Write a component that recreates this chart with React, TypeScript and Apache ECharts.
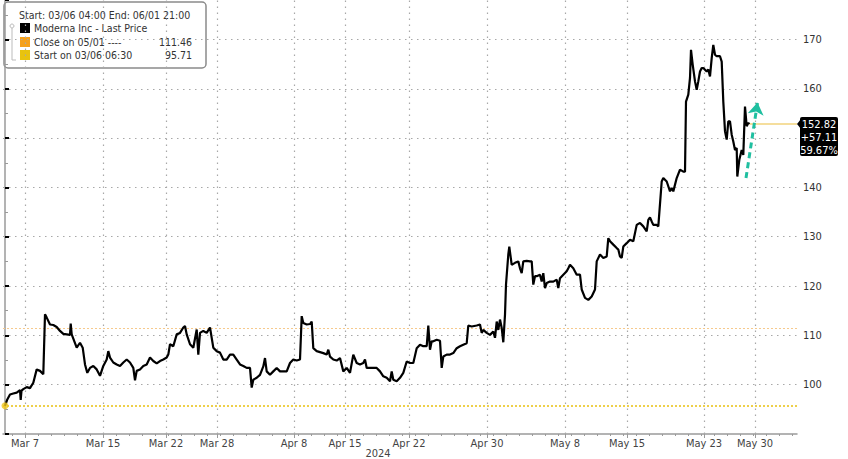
import React, { useEffect, useRef } from "react";
import * as echarts from "echarts";

// x = half-hour bar index since 03/06 04:00 (13 bars per trading day)
const marchPrices: [number, number][] = [
  [0, 95.71], [2.3, 97.0], [5, 98.0], [8.3, 98.2], [11.7, 98.4], [15, 98.9], [15.7, 96.9], [16.5, 98.8],
  [18.3, 99.1], [21.7, 99.5], [25, 99.3], [28.3, 100.4], [31.7, 103.1], [35, 102.8], [38.3, 102.1],
  [40, 114.3], [41.7, 113.6], [45, 112.2], [48.3, 112.1], [51.7, 111.7], [55, 110.9], [58.3, 110.3],
  [61.7, 110.2], [65, 110.1], [65.7, 112.4], [66.7, 110.2], [71.7, 107.5], [75, 108.5], [77.7, 107.5],
  [80, 104.1], [82.3, 102.4], [85, 103.4], [88.3, 103.8], [91.7, 103.1], [95, 101.8], [98.3, 103.8],
  [101.7, 105.1], [103.3, 106.8], [105, 105.5], [108.3, 104.5], [111.7, 104.1], [115, 103.8],
  [118.3, 104.5], [121.7, 105.1], [125, 104.5], [128.3, 103.4], [130, 100.9], [131.7, 102.8],
  [135, 103.1], [138.3, 103.8], [141.7, 104.1], [145, 105.5], [148.3, 104.8], [151.7, 104.3],
  [155, 104.8], [158.3, 105.1], [161.7, 105.5], [163.3, 106.1], [165, 108.2], [168.3, 107.8],
  [171.7, 110.2], [175, 110.5], [178.3, 111.6], [180, 111.9], [181.7, 110.2], [185, 108.2],
  [188.3, 107.5], [191.7, 111.2], [193.3, 106.1], [195, 110.5], [198.3, 110.9], [201.7, 110.5],
  [205, 111.6], [208.3, 107.5], [211.7, 106.8], [215, 106.5], [218.3, 105.1],
];
const aprilPrices: [number, number][] = [
  [221.7, 105.1], [225, 106.1], [228.3, 106.1], [231.7, 105.1], [235, 104.1], [238.3, 103.8],
  [241.7, 103.4], [245, 103.4], [246.7, 99.4], [248.3, 101.0], [251.7, 101.4], [255, 102.0],
  [258.3, 103.7], [260, 105.4], [261.7, 102.7], [265, 102.0], [268.3, 102.7], [271.7, 103.4],
  [275, 102.7], [278.3, 102.7], [281.7, 102.7], [285, 104.4], [288.3, 105.1], [291.7, 104.9],
  [295, 105.1], [296.7, 113.9], [298.3, 112.5], [301.7, 112.2], [305, 112.3], [306.7, 112.8],
  [308.3, 107.4], [311.7, 106.8], [315, 106.6], [318.3, 106.4], [321.7, 106.1], [323.3, 107.1],
  [325, 105.7], [328.3, 105.1], [331.7, 104.9], [335, 105.4], [338.3, 102.7], [341.7, 103.4],
  [345, 102.4], [348.3, 106.1], [351.7, 104.4], [355, 104.1], [358.3, 104.4], [360, 105.1],
  [361.7, 103.4], [365, 103.4], [368.3, 103.4], [371.7, 103.4], [375, 102.7], [378.3, 101.7],
  [381.7, 101.4], [385, 100.7], [386.7, 102.7], [388.3, 101.0], [391.7, 100.7], [395, 101.4],
  [398.3, 102.4], [401.7, 104.7], [405, 104.4], [408.3, 104.4], [411.7, 107.4], [415, 108.1],
  [418.3, 107.8], [421.7, 107.8], [423.3, 112.0], [425, 107.1], [426.7, 108.8], [428.3, 108.8],
  [431.7, 109.1], [435, 108.9], [436.7, 103.4], [438.3, 105.7], [441.7, 106.1], [445, 106.1],
  [448.3, 106.4], [451.7, 107.4], [455, 107.8], [458.3, 108.1], [461.7, 108.4], [463.3, 112.0],
  [466.7, 111.8], [471.7, 112.0], [475, 112.2], [476.7, 110.5], [478.3, 111.1], [481.7, 110.5],
  [485, 110.1], [488.3, 110.8], [490, 109.5],
];
const mayPrices: [number, number][] = [
  [491.7, 112.8], [493.3, 111.1], [495, 113.2], [496.7, 111.5], [498.3, 108.6], [500, 114.2],
  [501, 120.3], [503.3, 126.4], [504.3, 128.0], [506.7, 124.3], [510, 124.7], [513.3, 125.0],
  [515, 123.6], [516.7, 122.6], [518.3, 125.0], [521.7, 125.1], [525, 125.0], [526.7, 125.0],
  [528.3, 120.3], [530, 122.0], [531.7, 122.0], [535, 122.3], [536.7, 120.9], [538.3, 122.6],
  [540, 119.6], [541.7, 120.6], [545, 120.9], [548.3, 120.9], [551.7, 121.3], [553.3, 119.6],
  [555, 121.6], [558.3, 122.3], [561.7, 123.0], [563.3, 123.6], [565, 124.3], [568.3, 123.6],
  [571.7, 122.3], [575, 122.3], [576.7, 119.3], [580, 117.6], [583.3, 117.2], [586.7, 117.9],
  [590, 119.3], [591.7, 125.0], [595, 126.4], [598.3, 125.7], [601.7, 126.0], [603.3, 129.7],
  [605, 129.1], [608.3, 128.4], [611.7, 127.7], [613.3, 127.4], [615, 126.0], [616.7, 125.7],
  [618.3, 128.0], [621.7, 128.7], [625, 129.4], [628.3, 129.1], [631.7, 132.4], [635, 132.8],
  [638.3, 132.1], [641.7, 131.1], [643.3, 133.4], [645, 133.9], [646.7, 133.1], [648.3, 132.4],
  [651.7, 132.4], [653.3, 132.1], [656.7, 141.2], [658.3, 141.9], [661.7, 141.2], [665, 139.2],
  [666.7, 139.9], [668.3, 139.2], [671.7, 141.9], [675, 143.6], [678.3, 143.2], [680, 143.2],
  [681, 157.4], [683.3, 158.8], [685, 162.2], [686, 167.9], [687.7, 164.9], [690, 161.5],
  [691.7, 159.8], [693.3, 161.5], [695, 163.5], [696.7, 164.2], [698.3, 164.2], [701.7, 163.5],
  [703.3, 163.9], [705, 162.5], [706.7, 166.2], [708.3, 168.9], [710, 166.9], [711.7, 166.6],
  [715, 166.6], [716.7, 165.5], [718.3, 157.4], [720, 151.4], [721.7, 149.7], [723.3, 153.4],
  [725, 153.4], [726.7, 150.7], [728.3, 149.3], [730, 147.6], [731.7, 148.0], [732.3, 142.2],
  [734.3, 145.6], [736.7, 147.6], [738.3, 146.6], [740, 156.4], [741.7, 152.4], [743.3, 153.1],
  [744.3, 152.82],
];

const tickBars = [20, 98, 161, 212, 289, 340, 404, 482, 560, 622, 699, 750];
const tickLabels = ["Mar 7", "Mar 15", "Mar 22", "Mar 28", "Apr 8", "Apr 15", "Apr 22", "Apr 30", "May 8", "May 15", "May 23", "May 30"];
// 150 sits under the last-price tag in the reference
const yLabels = [100, 110, 120, 130, 140, 160, 170];

const closeOn0501 = 111.46;
const startOn0306 = 95.71;
const lastPrice = 152.82;
const netChange = "+57.11";
const pctChange = "59.67%";
const arrowFrom: [number, number] = [741, 141.9];
const arrowTo: [number, number] = [752.5, 157.2];

const FONT = '"Liberation Sans Narrow", "DejaVu Sans Condensed", "Liberation Sans", sans-serif';

export default function App() {
  const ref = useRef<HTMLDivElement>(null);
  useEffect(() => {
    document.body.style.margin = "0";
    if (!ref.current) return;
    const chart = echarts.init(ref.current, undefined, { renderer: "svg" });
    const data = [...marchPrices, ...aprilPrices, ...mayPrices];
    const last = data[data.length - 1];
    const dayTicks: number[] = [];
    for (let b = 7; b < 792; b += 13) dayTicks.push(b);
    const gridDot = () => ({ type: [1.5, 4.5] as any, color: "#a8a8a8", width: 1.2 });
    const lf = `10.5px ${FONT}`;

    chart.setOption({
      animation: false,
      grid: { left: 3, right: 51, top: 0, bottom: 25 },
      xAxis: [
        {
          type: "value",
          min: -2,
          max: 792,
          axisLine: { show: true, lineStyle: { color: "#9a9a9a", width: 1.5 } },
          axisTick: { show: true, customValues: tickBars, length: 4, lineStyle: { color: "#9a9a9a" } },
          axisLabel: {
            customValues: tickBars,
            formatter: (v: number) => {
              const i = tickBars.indexOf(Math.round(v));
              return i >= 0 ? tickLabels[i] : "";
            },
            color: "#444",
            fontSize: 11,
            fontFamily: FONT,
            margin: 4,
          },
          splitLine: { show: false },
        },
        {
          type: "value",
          min: -2,
          max: 792,
          position: "bottom",
          axisLine: { show: false },
          axisTick: { show: true, customValues: dayTicks, length: 2, lineStyle: { color: "#9a9a9a" } },
          axisLabel: { show: false },
          splitLine: { show: false },
        },
      ],
      yAxis: {
        type: "value",
        position: "right",
        min: 90,
        max: 178,
        interval: 10,
        axisLine: { show: true, lineStyle: { color: "#9a9a9a", width: 1.5 } },
        axisTick: { show: true, length: 4, lineStyle: { color: "#000", width: 2 } },
        minorTick: { show: true, splitNumber: 2, length: 3, lineStyle: { color: "#9a9a9a" } },
        axisLabel: {
          formatter: (v: number) => (yLabels.indexOf(v) >= 0 ? String(v) : ""),
          color: "#333",
          fontSize: 11,
          fontFamily: FONT,
          margin: 6,
        },
        splitLine: { show: false },
      },
      series: [
        {
          type: "line",
          data,
          symbol: "none",
          silent: true,
          z: 1,
          lineStyle: { color: "transparent", width: 0 },
          markLine: {
            silent: true,
            symbol: "none",
            label: { show: false },
            data: [
              ...tickBars.map((b) => ({ xAxis: b, lineStyle: gridDot() })),
              ...yLabels.concat([150]).map((v) => ({ yAxis: v, lineStyle: gridDot() })),
              { yAxis: closeOn0501, lineStyle: { type: [2, 2], color: "#f6c98c", width: 1.2 } },
              { yAxis: startOn0306, lineStyle: { type: [2, 2], color: "#eed04a", width: 1.8 } },
              [
                { coord: [last[0], lastPrice], lineStyle: { type: "solid", color: "#f2d37c", width: 1.6 } },
                { coord: [792, lastPrice] },
              ],
            ],
          },
        },
        {
          type: "line",
          data,
          symbol: "none",
          z: 5,
          lineStyle: { color: "#000", width: 2.2 },
        },
        {
          type: "scatter",
          data: [[data[0][0], startOn0306]],
          symbolSize: 7,
          z: 6,
          itemStyle: { color: "#efc51c" },
        },
        {
          type: "line",
          data: [],
          z: 7,
          markLine: {
            silent: true,
            symbol: ["none", "arrow"],
            symbolSize: 12,
            label: { show: false },
            itemStyle: { color: "#1fbfa0" },
            lineStyle: { type: [6, 4], color: "#1fbfa0", width: 3 },
            data: [[{ coord: arrowFrom }, { coord: arrowTo }]],
          },
        },
      ],
      graphic: [
        {
          type: "group",
          z: 100,
          children: [
            { type: "rect", shape: { x: 4, y: 2, width: 202, height: 66, r: 4 }, style: { fill: "#fff", stroke: "#8a8a8a", lineWidth: 1.5 } },
            { type: "text", x: 19, y: 15, style: { text: "Start: 03/06 04:00 End: 06/01 21:00", fill: "#333", font: lf, verticalAlign: "middle", textVerticalAlign: "middle" } },
            { type: "circle", shape: { cx: 12, cy: 26, r: 2 }, style: { fill: "#fff", stroke: "#bbb", lineWidth: 1 } },
            { type: "line", shape: { x1: 12, y1: 28, x2: 12, y2: 60 }, style: { stroke: "#bbb", lineWidth: 1 } },
            { type: "line", shape: { x1: 12, y1: 60, x2: 16, y2: 60 }, style: { stroke: "#bbb", lineWidth: 1 } },
            { type: "rect", shape: { x: 20, y: 23, width: 10, height: 10 }, style: { fill: "#000" } },
            { type: "text", x: 34, y: 28, style: { text: "Moderna Inc - Last Price", fill: "#333", font: lf, verticalAlign: "middle", textVerticalAlign: "middle" } },
            { type: "rect", shape: { x: 20, y: 37, width: 10, height: 10 }, style: { fill: "#f5a01a" } },
            { type: "text", x: 34, y: 42, style: { text: "Close on 05/01 ----", fill: "#333", font: lf, verticalAlign: "middle", textVerticalAlign: "middle" } },
            { type: "text", x: 192, y: 42, style: { text: closeOn0501.toFixed(2), fill: "#333", font: lf, align: "right", textAlign: "right", verticalAlign: "middle", textVerticalAlign: "middle" } },
            { type: "rect", shape: { x: 20, y: 50, width: 10, height: 10 }, style: { fill: "#e8c30e" } },
            { type: "text", x: 34, y: 55, style: { text: "Start on 03/06 06:30", fill: "#333", font: lf, verticalAlign: "middle", textVerticalAlign: "middle" } },
            { type: "text", x: 192, y: 55, style: { text: startOn0306.toFixed(2), fill: "#333", font: lf, align: "right", textAlign: "right", verticalAlign: "middle", textVerticalAlign: "middle" } },
          ],
        },
        {
          type: "group",
          z: 100,
          children: [
            { type: "polygon", shape: { points: [[797, 124], [801, 119], [801, 129]] }, style: { fill: "#000" } },
            { type: "rect", shape: { x: 800, y: 117, width: 38, height: 39, r: 2 }, style: { fill: "#000" } },
            { type: "text", x: 819, y: 124, style: { text: lastPrice.toFixed(2), fill: "#fff", font: `11px ${FONT}`, align: "center", textAlign: "center", verticalAlign: "middle", textVerticalAlign: "middle" } },
            { type: "text", x: 819, y: 137, style: { text: netChange, fill: "#fff", font: `11px ${FONT}`, align: "center", textAlign: "center", verticalAlign: "middle", textVerticalAlign: "middle" } },
            { type: "text", x: 819, y: 150, style: { text: pctChange, fill: "#fff", font: `11px ${FONT}`, align: "center", textAlign: "center", verticalAlign: "middle", textVerticalAlign: "middle" } },
          ],
        },
        {
          type: "text",
          x: 378,
          y: 453,
          z: 100,
          style: { text: "2024", fill: "#444", font: `11px ${FONT}`, align: "center", textAlign: "center", verticalAlign: "middle", textVerticalAlign: "middle" },
        },
      ],
    });
    return () => chart.dispose();
  }, []);
  return <div ref={ref} style={{ width: 848, height: 459 }} />;
}
